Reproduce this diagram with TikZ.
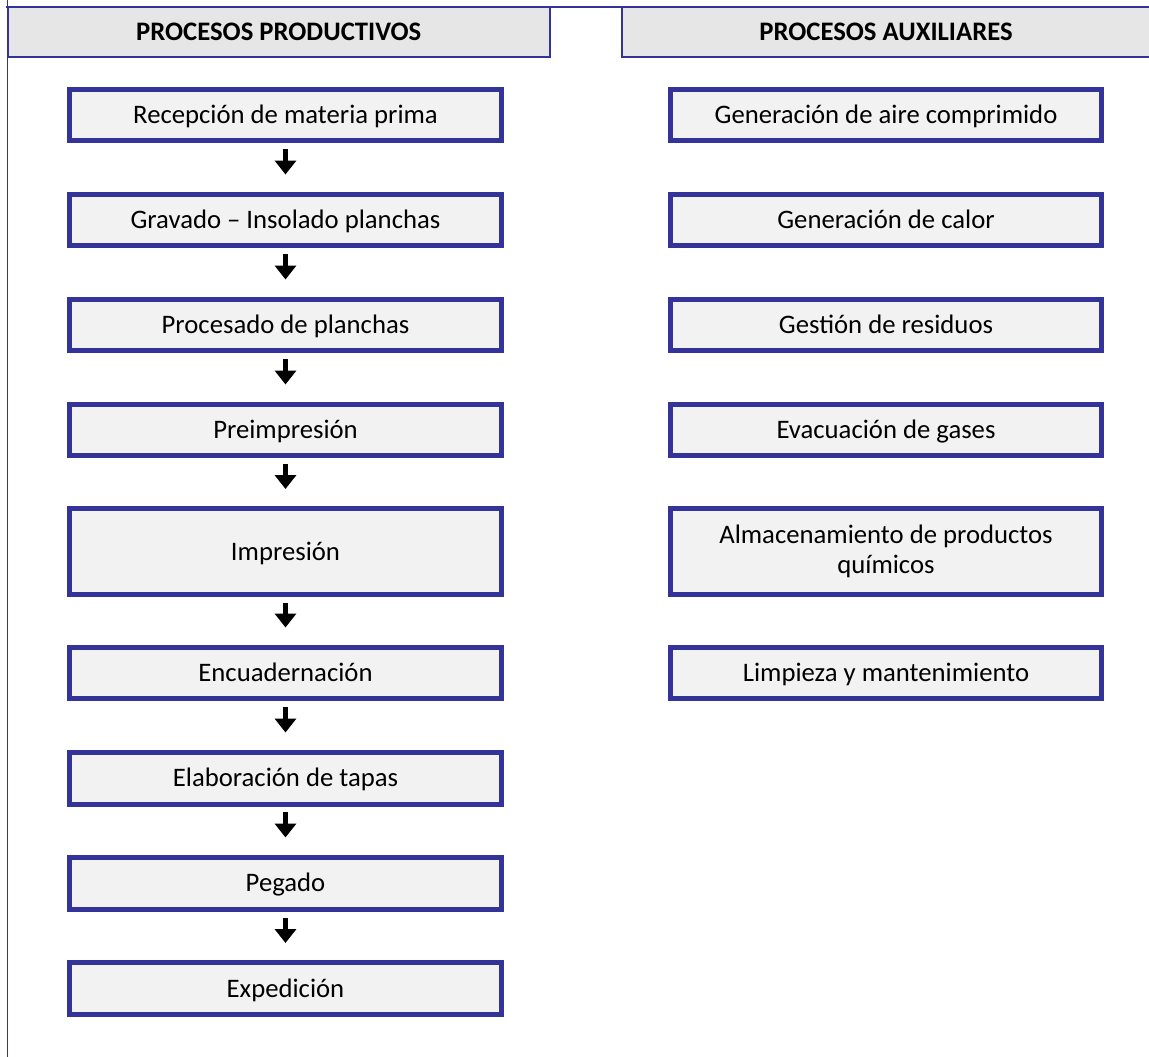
\documentclass[tikz,border=0pt]{standalone}
\usepackage{fontspec}
\setmainfont{Carlito}
\usetikzlibrary{arrows.meta, positioning}
\definecolor{frameblue}{HTML}{333399}
\definecolor{boxgray}{HTML}{F2F2F2}
\definecolor{headgray}{HTML}{E6E6E6}

\begin{document}
\begin{tikzpicture}[x=0.02cm, y=-0.02cm,
  procbox/.style={draw=frameblue, fill=boxgray, line width=0.1cm, inner sep=0pt,
    minimum width=8.64cm, minimum height=1.04cm, align=center,
    text height=4mm, text depth=0.6mm,
    font=\fontsize{15.2}{17.2}\selectfont},
  tallbox/.style={procbox, minimum height=1.72cm},
  headbox/.style={draw=frameblue, fill=headgray, line width=0.04cm, inner sep=0pt,
    minimum height=1cm, text height=4mm, text depth=0.6mm,
    font=\fontsize{15.2}{17.2}\selectfont\bfseries},
  flowarrow/.style={-{Triangle[length=0.28cm, width=0.42cm]}, line width=0.1cm,
    shorten <=0.12cm, shorten >=0.34cm}]

\useasboundingbox (0,0) rectangle (1149,1057);

% Headers
\node[headbox, minimum width=10.85cm] (hprod) at (278.75,32) {PROCESOS PRODUCTIVOS};
\node[headbox, minimum width=10.56cm] (haux) at (886,32) {PROCESOS AUXILIARES};

% Frame lines
\draw[frameblue, line width=0.04cm] (6,7) -- (1149,7);
\draw[frameblue, line width=0.04cm] (7.5,0) -- (7.5,1057);

% Productive processes
\node[procbox] (recep) at (285.5,115) {Recepción de materia prima};
\node[procbox] (grav) at (285.5,220) {Gravado – Insolado planchas};
\node[procbox] (procp) at (285.5,325) {Procesado de planchas};
\node[procbox] (preimp) at (285.5,430) {Preimpresión};
\node[tallbox] (impr) at (285.5,551.5) {Impresión};
\node[procbox] (encuad) at (285.5,673) {Encuadernación};
\node[procbox] (tapas) at (285.5,778) {Elaboración de tapas};
\node[procbox] (pegado) at (285.5,883) {Pegado};
\node[procbox] (exped) at (285.5,988.5) {Expedición};

\foreach \a/\b in {recep/grav, grav/procp, procp/preimp, preimp/impr,
  impr/encuad, encuad/tapas, tapas/pegado, pegado/exped}
  \draw[flowarrow] (\a) -- (\b);

% Auxiliary processes
\node[procbox] (aire) at (886,115) {Generación de aire comprimido};
\node[procbox] (calor) at (886,220) {Generación de calor};
\node[procbox] (resid) at (886,325) {Gestión de residuos};
\node[procbox] (gases) at (886,430) {Evacuación de gases};
\node[tallbox, text height=, text depth=] (almac) at (886,551.5)
  {Almacenamiento de productos\\químicos};
\node[procbox] (limp) at (886,673) {Limpieza y mantenimiento};

\end{tikzpicture}
\end{document}
